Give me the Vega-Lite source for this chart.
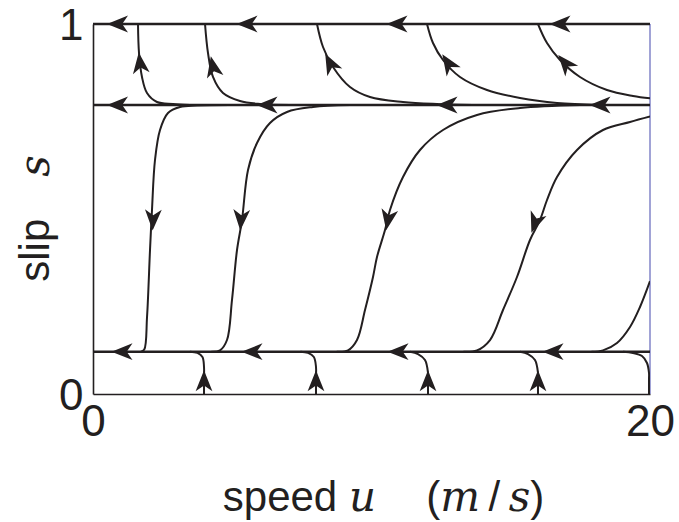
{
  "$schema": "https://vega.github.io/schema/vega-lite/v6.json",
  "width": 557,
  "height": 370,
  "autosize": "none",
  "padding": {"left": 93, "top": 24, "right": 29, "bottom": 128},
  "background": "white",
  "config": {"view": {"stroke": null}},
  "datasets": {
    "lines": [{"name": "top", "s": 1}, {"name": "mid", "s": 0.7811}, {"name": "low", "s": 0.1143}],
    "edge": [{"u": 20}],
    "curves": [
      {"c": "T1", "u": 1.616, "s": 1}, {"c": "T1", "u": 1.652, "s": 0.9216}, {"c": "T1", "u": 1.759, "s": 0.8568}, {"c": "T1", "u": 1.939, "s": 0.8135}, {"c": "T1", "u": 2.298, "s": 0.7892}, {"c": "T1", "u": 2.873, "s": 0.7838}, {"c": "T1", "u": 3.483, "s": 0.7811},
      {"c": "T2", "u": 4.022, "s": 1}, {"c": "T2", "u": 4.129, "s": 0.9216}, {"c": "T2", "u": 4.309, "s": 0.8568}, {"c": "T2", "u": 4.668, "s": 0.8135}, {"c": "T2", "u": 5.278, "s": 0.7919}, {"c": "T2", "u": 5.996, "s": 0.7838}, {"c": "T2", "u": 7.074, "s": 0.7811},
      {"c": "T3", "u": 8.043, "s": 1}, {"c": "T3", "u": 8.259, "s": 0.9378}, {"c": "T3", "u": 8.618, "s": 0.8838}, {"c": "T3", "u": 9.228, "s": 0.8297}, {"c": "T3", "u": 9.946, "s": 0.8027}, {"c": "T3", "u": 11.131, "s": 0.7892}, {"c": "T3", "u": 12.352, "s": 0.7838}, {"c": "T3", "u": 13.896, "s": 0.7811},
      {"c": "T4", "u": 11.993, "s": 1}, {"c": "T4", "u": 12.208, "s": 0.9486}, {"c": "T4", "u": 12.567, "s": 0.9027}, {"c": "T4", "u": 13.178, "s": 0.8568}, {"c": "T4", "u": 14.147, "s": 0.8216}, {"c": "T4", "u": 15.332, "s": 0.8}, {"c": "T4", "u": 16.661, "s": 0.7865}, {"c": "T4", "u": 18.205, "s": 0.7811},
      {"c": "T5", "u": 15.978, "s": 1}, {"c": "T5", "u": 16.302, "s": 0.9486}, {"c": "T5", "u": 16.769, "s": 0.9027}, {"c": "T5", "u": 17.487, "s": 0.8568}, {"c": "T5", "u": 18.456, "s": 0.8216}, {"c": "T5", "u": 19.39, "s": 0.8054}, {"c": "T5", "u": 20, "s": 0.799},
      {"c": "M1", "u": 1.72, "s": 0.1143}, {"c": "M1", "u": 1.84, "s": 0.12}, {"c": "M1", "u": 1.94, "s": 0.2081}, {"c": "M1", "u": 2.047, "s": 0.3892}, {"c": "M1", "u": 2.118, "s": 0.4973}, {"c": "M1", "u": 2.226, "s": 0.6324}, {"c": "M1", "u": 2.406, "s": 0.7135}, {"c": "M1", "u": 2.693, "s": 0.7595}, {"c": "M1", "u": 3.124, "s": 0.7757}, {"c": "M1", "u": 3.734, "s": 0.7797}, {"c": "M1", "u": 4.9, "s": 0.7811},
      {"c": "M2", "u": 4.25, "s": 0.1143}, {"c": "M2", "u": 4.56, "s": 0.118}, {"c": "M2", "u": 4.811, "s": 0.1459}, {"c": "M2", "u": 4.991, "s": 0.2541}, {"c": "M2", "u": 5.171, "s": 0.3892}, {"c": "M2", "u": 5.35, "s": 0.4703}, {"c": "M2", "u": 5.566, "s": 0.6054}, {"c": "M2", "u": 5.889, "s": 0.6784}, {"c": "M2", "u": 6.355, "s": 0.7324}, {"c": "M2", "u": 6.966, "s": 0.7622}, {"c": "M2", "u": 7.899, "s": 0.7757}, {"c": "M2", "u": 9.228, "s": 0.7811},
      {"c": "M3", "u": 8.75, "s": 0.1143}, {"c": "M3", "u": 9.156, "s": 0.118}, {"c": "M3", "u": 9.479, "s": 0.1459}, {"c": "M3", "u": 9.767, "s": 0.227}, {"c": "M3", "u": 10.054, "s": 0.3162}, {"c": "M3", "u": 10.197, "s": 0.3703}, {"c": "M3", "u": 10.485, "s": 0.4432}, {"c": "M3", "u": 10.664, "s": 0.4973}, {"c": "M3", "u": 11.131, "s": 0.5865}, {"c": "M3", "u": 11.741, "s": 0.6595}, {"c": "M3", "u": 12.567, "s": 0.7135}, {"c": "M3", "u": 13.788, "s": 0.7541}, {"c": "M3", "u": 15.332, "s": 0.773}, {"c": "M3", "u": 17.487, "s": 0.7811},
      {"c": "M4", "u": 13.3, "s": 0.1143}, {"c": "M4", "u": 13.788, "s": 0.118}, {"c": "M4", "u": 14.255, "s": 0.1459}, {"c": "M4", "u": 14.722, "s": 0.227}, {"c": "M4", "u": 15.224, "s": 0.3162}, {"c": "M4", "u": 15.691, "s": 0.4162}, {"c": "M4", "u": 16.05, "s": 0.4703}, {"c": "M4", "u": 16.302, "s": 0.5243}, {"c": "M4", "u": 16.661, "s": 0.5865}, {"c": "M4", "u": 17.379, "s": 0.6595}, {"c": "M4", "u": 18.312, "s": 0.7135}, {"c": "M4", "u": 19.282, "s": 0.7351}, {"c": "M4", "u": 20, "s": 0.75},
      {"c": "M5", "u": 17.9, "s": 0.1143}, {"c": "M5", "u": 18.312, "s": 0.118}, {"c": "M5", "u": 18.815, "s": 0.1378}, {"c": "M5", "u": 19.282, "s": 0.1811}, {"c": "M5", "u": 19.641, "s": 0.2351}, {"c": "M5", "u": 20, "s": 0.305},
      {"c": "B1", "u": 3.986, "s": 0}, {"c": "B1", "u": 3.986, "s": 0.04}, {"c": "B1", "u": 3.986, "s": 0.073}, {"c": "B1", "u": 3.93, "s": 0.1}, {"c": "B1", "u": 3.75, "s": 0.111}, {"c": "B1", "u": 3.48, "s": 0.1143},
      {"c": "B2", "u": 8.007, "s": 0}, {"c": "B2", "u": 8.007, "s": 0.04}, {"c": "B2", "u": 8.007, "s": 0.073}, {"c": "B2", "u": 7.93, "s": 0.1}, {"c": "B2", "u": 7.72, "s": 0.111}, {"c": "B2", "u": 7.45, "s": 0.1143},
      {"c": "B3", "u": 12.029, "s": 0}, {"c": "B3", "u": 12.029, "s": 0.04}, {"c": "B3", "u": 12.029, "s": 0.057}, {"c": "B3", "u": 11.921, "s": 0.0919}, {"c": "B3", "u": 11.67, "s": 0.108}, {"c": "B3", "u": 11.382, "s": 0.1143},
      {"c": "B4", "u": 15.978, "s": 0}, {"c": "B4", "u": 15.978, "s": 0.04}, {"c": "B4", "u": 15.978, "s": 0.057}, {"c": "B4", "u": 15.87, "s": 0.0919}, {"c": "B4", "u": 15.62, "s": 0.108}, {"c": "B4", "u": 15.33, "s": 0.1143},
      {"c": "B5", "u": 19.964, "s": 0}, {"c": "B5", "u": 19.964, "s": 0.04}, {"c": "B5", "u": 19.964, "s": 0.057}, {"c": "B5", "u": 19.892, "s": 0.0838}, {"c": "B5", "u": 19.713, "s": 0.1027}, {"c": "B5", "u": 19.39, "s": 0.111}, {"c": "B5", "u": 19.03, "s": 0.1143}
    ],
    "arrows": [
      {"u": 0.88, "s": 1, "heading": 0}, {"u": 5.53, "s": 1, "heading": 0}, {"u": 10.915, "s": 1, "heading": 0}, {"u": 16.768, "s": 1, "heading": 0},
      {"u": 0.88, "s": 0.7811, "heading": 0}, {"u": 6.248, "s": 0.7811, "heading": 0}, {"u": 12.711, "s": 0.7811, "heading": 0}, {"u": 18.205, "s": 0.7811, "heading": 0},
      {"u": 1.041, "s": 0.1143, "heading": 0}, {"u": 5.709, "s": 0.1143, "heading": 0}, {"u": 10.952, "s": 0.1143, "heading": 0}, {"u": 16.517, "s": 0.1143, "heading": 0},
      {"u": 1.688, "s": 0.895, "heading": 83}, {"u": 4.309, "s": 0.885, "heading": 78}, {"u": 8.51, "s": 0.8946, "heading": 63}, {"u": 12.747, "s": 0.8946, "heading": 57}, {"u": 16.948, "s": 0.8946, "heading": 50},
      {"u": 2.154, "s": 0.4703, "heading": 272}, {"u": 5.314, "s": 0.4703, "heading": 274}, {"u": 10.592, "s": 0.4703, "heading": 280}, {"u": 15.871, "s": 0.4622, "heading": 290},
      {"u": 3.986, "s": 0.036, "heading": 90}, {"u": 8.007, "s": 0.036, "heading": 90}, {"u": 12.029, "s": 0.036, "heading": 90}, {"u": 15.978, "s": 0.036, "heading": 90}
    ]
  },
  "layer": [
    {
      "data": {"name": "edge"},
      "mark": {"type": "rule", "color": "#8a8ccc", "strokeWidth": 1.6},
      "encoding": {
        "x": {
          "field": "u", "type": "quantitative",
          "scale": {"domain": [0, 20], "nice": false, "zero": false},
          "axis": {
            "values": [0, 20], "format": "d", "ticks": false, "tickSize": 0, "grid": false,
            "domainColor": "#231f20", "domainWidth": 1.6,
            "labelFont": "Liberation Sans", "labelFontSize": 44, "labelColor": "#231f20",
            "labelPadding": 41, "labelBaseline": "alphabetic", "labelFlush": false, "labelOverlap": false,
            "title": "speed 𝑢\u2003\u2009(𝑚\u2009/\u2009𝑠)", "titleFont": "Liberation Sans, DejaVu Serif", "titleFontSize": 42, "titleFontWeight": "normal",
            "titleColor": "#231f20", "titleX": 290, "titleY": 116, "titleBaseline": "alphabetic", "titleAlign": "center", "titleAnchor": null
          }
        }
      }
    },
    {
      "data": {"name": "lines"},
      "mark": {"type": "rule", "color": "#231f20", "strokeWidth": 2.6},
      "encoding": {
        "y": {
          "field": "s", "type": "quantitative",
          "scale": {"domain": [0, 1], "nice": false, "zero": false},
          "axis": {
            "values": [0, 1], "format": "d", "ticks": false, "tickSize": 0, "grid": false,
            "domainColor": "#231f20", "domainWidth": 1.6,
            "labelFont": "Liberation Sans", "labelFontSize": 44, "labelColor": "#231f20",
            "labelPadding": 10, "labelBaseline": "middle", "labelOffset": 2, "labelFlush": false, "labelOverlap": false,
            "title": "slip\u2003𝑠", "titleFont": "Liberation Sans, DejaVu Serif", "titleFontSize": 42, "titleFontWeight": "normal",
            "titleColor": "#231f20", "titleX": -45, "titleY": 194, "titleAngle": -90, "titleBaseline": "alphabetic", "titleAlign": "center", "titleAnchor": null
          }
        }
      }
    },
    {
      "data": {"name": "curves"},
      "mark": {"type": "line", "color": "#231f20", "strokeWidth": 2, "interpolate": "catmull-rom", "clip": true},
      "encoding": {
        "x": {"field": "u", "type": "quantitative"},
        "y": {"field": "s", "type": "quantitative"},
        "detail": {"field": "c", "type": "nominal"},
        "order": {"field": "s", "type": "quantitative"}
      }
    },
    {
      "data": {"name": "arrows"},
      "mark": {"type": "point", "shape": "M-1,0L1,-0.8L0.45,0L1,0.8Z", "filled": true, "color": "#231f20", "opacity": 1, "size": 441, "strokeWidth": 0},
      "encoding": {
        "x": {"field": "u", "type": "quantitative"},
        "y": {"field": "s", "type": "quantitative"},
        "angle": {"field": "heading", "type": "quantitative", "scale": null}
      }
    }
  ]
}
